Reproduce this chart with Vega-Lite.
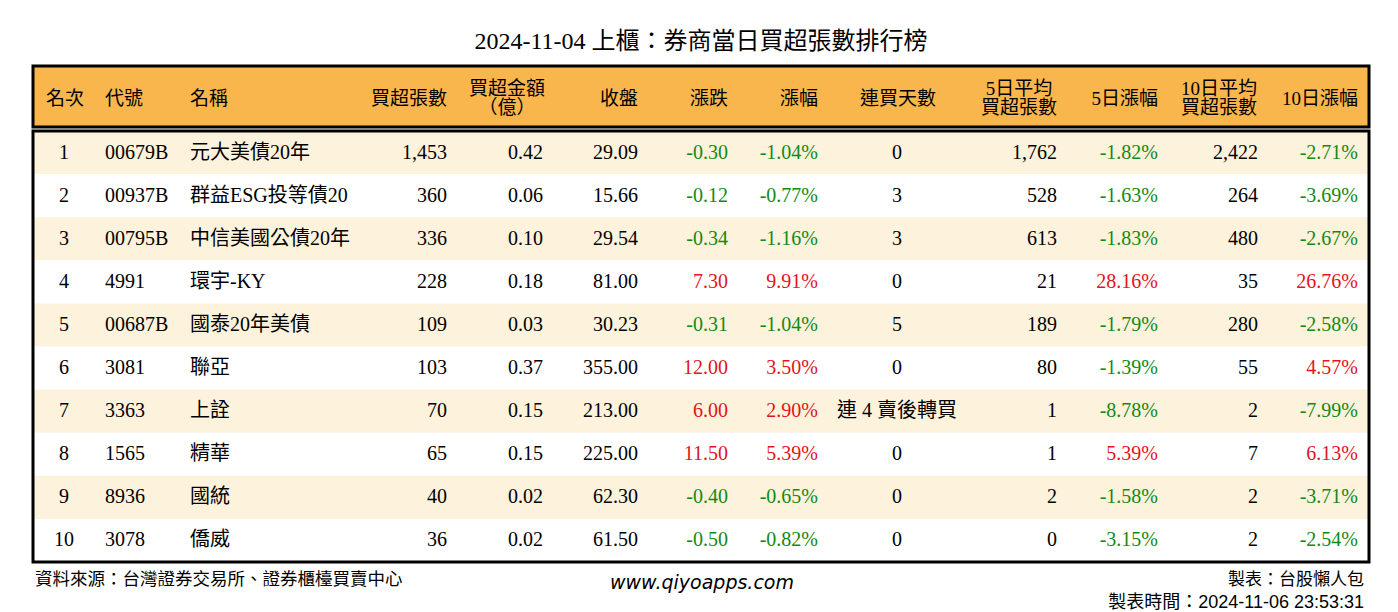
{
  "$schema": "https://vega.github.io/schema/vega-lite/v6.json",
  "padding": {"left": 31, "top": 29, "right": 0, "bottom": 0},
  "background": "white",
  "title": {
    "text": "2024-11-04 上櫃：券商當日買超張數排行榜",
    "anchor": "middle",
    "frame": "group",
    "font": "Liberation Serif, Noto Sans CJK TC",
    "fontSize": 24,
    "fontWeight": "normal",
    "color": "#000000",
    "offset": 11
  },
  "config": {
    "locale": {"number": {"decimal": ".", "thousands": ",", "grouping": [3], "currency": ["$", ""], "minus": "-"}},
    "text": {"font": "Liberation Serif, Noto Sans CJK TC", "fontSize": 20, "baseline": "middle", "color": "#000000"}
  },
  "spacing": 0,
  "vconcat": [
    {
      "width": 1336,
      "height": 61,
      "view": {"fill": "#F9B64D", "stroke": "#000000", "strokeWidth": 3},
      "data": {"values": [{}]},
      "layer": [
        {"mark": {"type": "text", "text": "名次", "align": "center", "fontSize": 19, "dy": 2}, "encoding": {"x": {"datum": 32, "type": "quantitative", "scale": {"domain": [0, 1336], "nice": false, "zero": false}, "axis": null}}},
        {"mark": {"type": "text", "text": "代號", "align": "left", "fontSize": 19, "dy": 2}, "encoding": {"x": {"datum": 72, "type": "quantitative", "scale": {"domain": [0, 1336], "nice": false, "zero": false}, "axis": null}}},
        {"mark": {"type": "text", "text": "名稱", "align": "left", "fontSize": 19, "dy": 2}, "encoding": {"x": {"datum": 157, "type": "quantitative", "scale": {"domain": [0, 1336], "nice": false, "zero": false}, "axis": null}}},
        {"mark": {"type": "text", "text": "買超張數", "align": "right", "fontSize": 19, "dy": 2}, "encoding": {"x": {"datum": 414, "type": "quantitative", "scale": {"domain": [0, 1336], "nice": false, "zero": false}, "axis": null}}},
        {"mark": {"type": "text", "text": ["買超金額", "（億）"], "align": "center", "fontSize": 19, "lineHeight": 19, "dy": -8}, "encoding": {"x": {"datum": 474, "type": "quantitative", "scale": {"domain": [0, 1336], "nice": false, "zero": false}, "axis": null}}},
        {"mark": {"type": "text", "text": "收盤", "align": "right", "fontSize": 19, "dy": 2}, "encoding": {"x": {"datum": 605, "type": "quantitative", "scale": {"domain": [0, 1336], "nice": false, "zero": false}, "axis": null}}},
        {"mark": {"type": "text", "text": "漲跌", "align": "right", "fontSize": 19, "dy": 2}, "encoding": {"x": {"datum": 695, "type": "quantitative", "scale": {"domain": [0, 1336], "nice": false, "zero": false}, "axis": null}}},
        {"mark": {"type": "text", "text": "漲幅", "align": "right", "fontSize": 19, "dy": 2}, "encoding": {"x": {"datum": 785, "type": "quantitative", "scale": {"domain": [0, 1336], "nice": false, "zero": false}, "axis": null}}},
        {"mark": {"type": "text", "text": "連買天數", "align": "center", "fontSize": 19, "dy": 2}, "encoding": {"x": {"datum": 865, "type": "quantitative", "scale": {"domain": [0, 1336], "nice": false, "zero": false}, "axis": null}}},
        {"mark": {"type": "text", "text": ["5日平均", "買超張數"], "align": "center", "fontSize": 19, "lineHeight": 19, "dy": -8}, "encoding": {"x": {"datum": 986, "type": "quantitative", "scale": {"domain": [0, 1336], "nice": false, "zero": false}, "axis": null}}},
        {"mark": {"type": "text", "text": "5日漲幅", "align": "right", "fontSize": 19, "dy": 2}, "encoding": {"x": {"datum": 1125, "type": "quantitative", "scale": {"domain": [0, 1336], "nice": false, "zero": false}, "axis": null}}},
        {"mark": {"type": "text", "text": ["10日平均", "買超張數"], "align": "center", "fontSize": 19, "lineHeight": 19, "dy": -8}, "encoding": {"x": {"datum": 1186, "type": "quantitative", "scale": {"domain": [0, 1336], "nice": false, "zero": false}, "axis": null}}},
        {"mark": {"type": "text", "text": "10日漲幅", "align": "right", "fontSize": 19, "dy": 2}, "encoding": {"x": {"datum": 1325, "type": "quantitative", "scale": {"domain": [0, 1336], "nice": false, "zero": false}, "axis": null}}}
      ]
    },
    {
      "width": 1336,
      "height": 431,
      "view": {"stroke": null},
      "data": {
        "values": [
          {"rank": 1, "code": "00679B", "name": "元大美債20年", "net": 1453, "amount": 0.42, "close": 29.09, "change": -0.30, "pct": -0.0104, "days": "0", "avg5": 1762, "pct5": -0.0182, "avg10": 2422, "pct10": -0.0271},
          {"rank": 2, "code": "00937B", "name": "群益ESG投等債20", "net": 360, "amount": 0.06, "close": 15.66, "change": -0.12, "pct": -0.0077, "days": "3", "avg5": 528, "pct5": -0.0163, "avg10": 264, "pct10": -0.0369},
          {"rank": 3, "code": "00795B", "name": "中信美國公債20年", "net": 336, "amount": 0.10, "close": 29.54, "change": -0.34, "pct": -0.0116, "days": "3", "avg5": 613, "pct5": -0.0183, "avg10": 480, "pct10": -0.0267},
          {"rank": 4, "code": "4991", "name": "環宇-KY", "net": 228, "amount": 0.18, "close": 81.00, "change": 7.30, "pct": 0.0991, "days": "0", "avg5": 21, "pct5": 0.2816, "avg10": 35, "pct10": 0.2676},
          {"rank": 5, "code": "00687B", "name": "國泰20年美債", "net": 109, "amount": 0.03, "close": 30.23, "change": -0.31, "pct": -0.0104, "days": "5", "avg5": 189, "pct5": -0.0179, "avg10": 280, "pct10": -0.0258},
          {"rank": 6, "code": "3081", "name": "聯亞", "net": 103, "amount": 0.37, "close": 355.00, "change": 12.00, "pct": 0.0350, "days": "0", "avg5": 80, "pct5": -0.0139, "avg10": 55, "pct10": 0.0457},
          {"rank": 7, "code": "3363", "name": "上詮", "net": 70, "amount": 0.15, "close": 213.00, "change": 6.00, "pct": 0.0290, "days": "連 4 賣後轉買", "avg5": 1, "pct5": -0.0878, "avg10": 2, "pct10": -0.0799},
          {"rank": 8, "code": "1565", "name": "精華", "net": 65, "amount": 0.15, "close": 225.00, "change": 11.50, "pct": 0.0539, "days": "0", "avg5": 1, "pct5": 0.0539, "avg10": 7, "pct10": 0.0613},
          {"rank": 9, "code": "8936", "name": "國統", "net": 40, "amount": 0.02, "close": 62.30, "change": -0.40, "pct": -0.0065, "days": "0", "avg5": 2, "pct5": -0.0158, "avg10": 2, "pct10": -0.0371},
          {"rank": 10, "code": "3078", "name": "僑威", "net": 36, "amount": 0.02, "close": 61.50, "change": -0.50, "pct": -0.0082, "days": "0", "avg5": 0, "pct5": -0.0315, "avg10": 2, "pct10": -0.0254}
        ]
      },
      "layer": [
        {"mark": {"type": "rect"}, "encoding": {
          "y": {"field": "rank", "type": "ordinal", "axis": null, "scale": {"domain": [1, 2, 3, 4, 5, 6, 7, 8, 9, 10], "paddingInner": 0, "paddingOuter": 0}},
          "x": {"datum": 0, "type": "quantitative", "scale": {"domain": [0, 1336], "nice": false, "zero": false}, "axis": null},
          "x2": {"datum": 1336},
          "fill": {"condition": {"test": "datum.rank % 2 == 1", "value": "#FDF2DC"}, "value": "#FFFFFF"}
        }},
        {"mark": {"type": "text", "align": "center"}, "encoding": {"y": {"field": "rank", "type": "ordinal", "axis": null}, "x": {"datum": 31, "type": "quantitative", "scale": {"domain": [0, 1336], "nice": false, "zero": false}, "axis": null}, "text": {"field": "rank", "type": "nominal"}}},
        {"mark": {"type": "text", "align": "left"}, "encoding": {"y": {"field": "rank", "type": "ordinal", "axis": null}, "x": {"datum": 72, "type": "quantitative", "scale": {"domain": [0, 1336], "nice": false, "zero": false}, "axis": null}, "text": {"field": "code", "type": "nominal"}}},
        {"mark": {"type": "text", "align": "left"}, "encoding": {"y": {"field": "rank", "type": "ordinal", "axis": null}, "x": {"datum": 157, "type": "quantitative", "scale": {"domain": [0, 1336], "nice": false, "zero": false}, "axis": null}, "text": {"field": "name", "type": "nominal"}}},
        {"mark": {"type": "text", "align": "right"}, "encoding": {"y": {"field": "rank", "type": "ordinal", "axis": null}, "x": {"datum": 414, "type": "quantitative", "scale": {"domain": [0, 1336], "nice": false, "zero": false}, "axis": null}, "text": {"field": "net", "type": "quantitative", "format": ","}}},
        {"mark": {"type": "text", "align": "right"}, "encoding": {"y": {"field": "rank", "type": "ordinal", "axis": null}, "x": {"datum": 510, "type": "quantitative", "scale": {"domain": [0, 1336], "nice": false, "zero": false}, "axis": null}, "text": {"field": "amount", "type": "quantitative", "format": ".2f"}}},
        {"mark": {"type": "text", "align": "right"}, "encoding": {"y": {"field": "rank", "type": "ordinal", "axis": null}, "x": {"datum": 605, "type": "quantitative", "scale": {"domain": [0, 1336], "nice": false, "zero": false}, "axis": null}, "text": {"field": "close", "type": "quantitative", "format": ".2f"}}},
        {"mark": {"type": "text", "align": "right"}, "encoding": {"y": {"field": "rank", "type": "ordinal", "axis": null}, "x": {"datum": 695, "type": "quantitative", "scale": {"domain": [0, 1336], "nice": false, "zero": false}, "axis": null}, "text": {"field": "change", "type": "quantitative", "format": ".2f"}, "color": {"condition": {"test": "datum.change < 0", "value": "#138A13"}, "value": "#E3141B"}}},
        {"mark": {"type": "text", "align": "right"}, "encoding": {"y": {"field": "rank", "type": "ordinal", "axis": null}, "x": {"datum": 785, "type": "quantitative", "scale": {"domain": [0, 1336], "nice": false, "zero": false}, "axis": null}, "text": {"field": "pct", "type": "quantitative", "format": ".2%"}, "color": {"condition": {"test": "datum.pct < 0", "value": "#138A13"}, "value": "#E3141B"}}},
        {"mark": {"type": "text", "align": "center"}, "encoding": {"y": {"field": "rank", "type": "ordinal", "axis": null}, "x": {"datum": 864, "type": "quantitative", "scale": {"domain": [0, 1336], "nice": false, "zero": false}, "axis": null}, "text": {"field": "days", "type": "nominal"}}},
        {"mark": {"type": "text", "align": "right"}, "encoding": {"y": {"field": "rank", "type": "ordinal", "axis": null}, "x": {"datum": 1024, "type": "quantitative", "scale": {"domain": [0, 1336], "nice": false, "zero": false}, "axis": null}, "text": {"field": "avg5", "type": "quantitative", "format": ","}}},
        {"mark": {"type": "text", "align": "right"}, "encoding": {"y": {"field": "rank", "type": "ordinal", "axis": null}, "x": {"datum": 1125, "type": "quantitative", "scale": {"domain": [0, 1336], "nice": false, "zero": false}, "axis": null}, "text": {"field": "pct5", "type": "quantitative", "format": ".2%"}, "color": {"condition": {"test": "datum.pct5 < 0", "value": "#138A13"}, "value": "#E3141B"}}},
        {"mark": {"type": "text", "align": "right"}, "encoding": {"y": {"field": "rank", "type": "ordinal", "axis": null}, "x": {"datum": 1225, "type": "quantitative", "scale": {"domain": [0, 1336], "nice": false, "zero": false}, "axis": null}, "text": {"field": "avg10", "type": "quantitative", "format": ","}}},
        {"mark": {"type": "text", "align": "right"}, "encoding": {"y": {"field": "rank", "type": "ordinal", "axis": null}, "x": {"datum": 1325, "type": "quantitative", "scale": {"domain": [0, 1336], "nice": false, "zero": false}, "axis": null}, "text": {"field": "pct10", "type": "quantitative", "format": ".2%"}, "color": {"condition": {"test": "datum.pct10 < 0", "value": "#138A13"}, "value": "#E3141B"}}},
        {"data": {"values": [{}]}, "mark": {"type": "rect", "fill": null, "stroke": "#000000", "strokeWidth": 3}, "encoding": {
          "x": {"datum": 0, "type": "quantitative", "scale": {"domain": [0, 1336], "nice": false, "zero": false}, "axis": null},
          "x2": {"datum": 1336}
        }}
      ]
    },
    {
      "width": 1336,
      "height": 51,
      "view": {"stroke": null},
      "data": {"values": [{}]},
      "layer": [
        {"mark": {"type": "text", "text": "資料來源：台灣證券交易所、證券櫃檯買賣中心", "align": "left", "fontSize": 17.5}, "encoding": {
          "x": {"datum": 2, "type": "quantitative", "scale": {"domain": [0, 1336], "nice": false, "zero": false}, "axis": null},
          "y": {"datum": 16, "type": "quantitative", "scale": {"domain": [51, 0], "nice": false, "zero": false}, "axis": null}}},
        {"mark": {"type": "text", "text": "www.qiyoapps.com", "align": "center", "fontSize": 19, "font": "DejaVu Sans", "fontStyle": "italic"}, "encoding": {
          "x": {"datum": 669, "type": "quantitative", "scale": {"domain": [0, 1336], "nice": false, "zero": false}, "axis": null},
          "y": {"datum": 19, "type": "quantitative", "scale": {"domain": [51, 0], "nice": false, "zero": false}, "axis": null}}},
        {"mark": {"type": "text", "text": "製表：台股懶人包", "align": "right", "fontSize": 17}, "encoding": {
          "x": {"datum": 1331, "type": "quantitative", "scale": {"domain": [0, 1336], "nice": false, "zero": false}, "axis": null},
          "y": {"datum": 16, "type": "quantitative", "scale": {"domain": [51, 0], "nice": false, "zero": false}, "axis": null}}},
        {"mark": {"type": "text", "text": "製表時間：2024-11-06 23:53:31", "align": "right", "fontSize": 18, "font": "Liberation Sans, Noto Sans CJK TC"}, "encoding": {
          "x": {"datum": 1331, "type": "quantitative", "scale": {"domain": [0, 1336], "nice": false, "zero": false}, "axis": null},
          "y": {"datum": 39, "type": "quantitative", "scale": {"domain": [51, 0], "nice": false, "zero": false}, "axis": null}}}
      ]
    }
  ]
}
